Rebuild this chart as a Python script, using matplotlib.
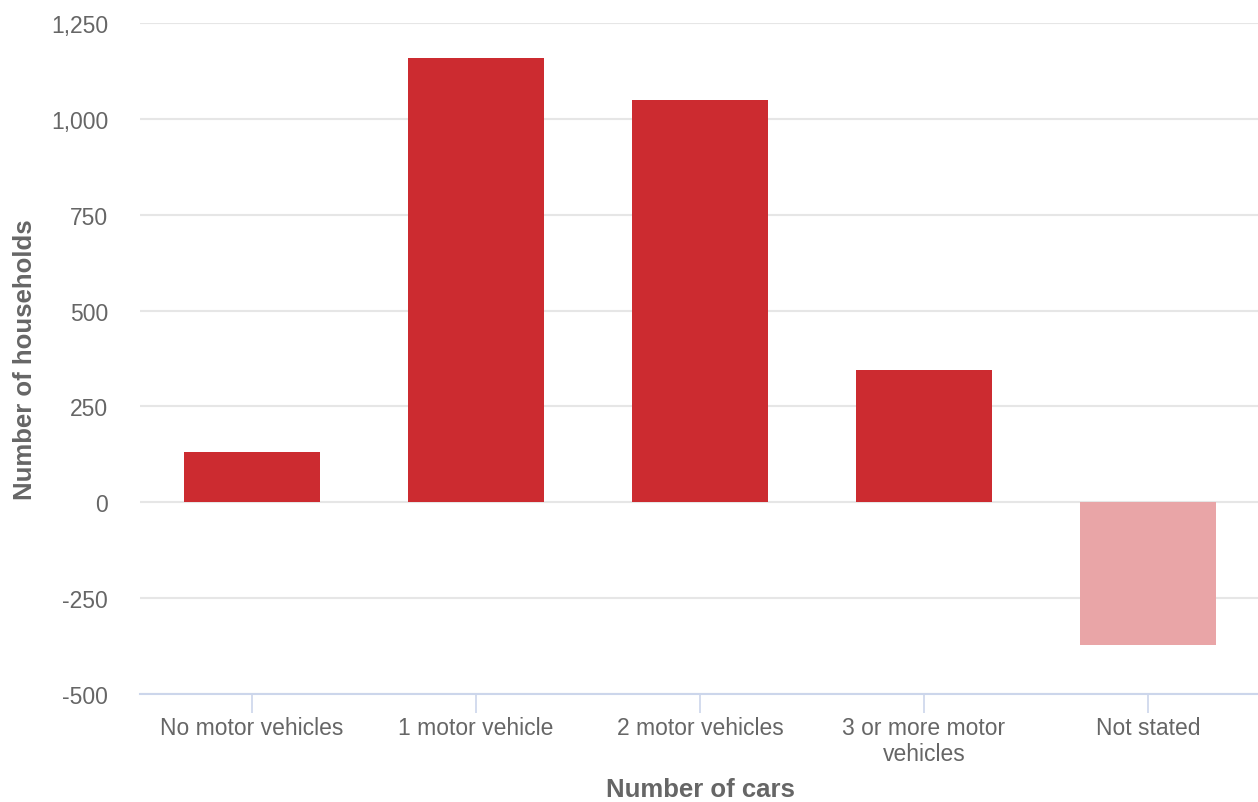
import matplotlib
matplotlib.use("Agg")
import matplotlib.pyplot as plt
from matplotlib.ticker import FuncFormatter

plt.rcParams['font.family'] = ['Liberation Sans', 'DejaVu Sans']

categories = ["No motor vehicles", "1 motor vehicle", "2 motor vehicles",
              "3 or more motor\nvehicles", "Not stated"]
households = [130, 1160, 1050, 345, -373]
y_ticks = [-500, -250, 0, 250, 500, 750, 1000, 1250]

main_color = "#cc2b30"
faded_color = "#e9a5a7"
bar_colors = [main_color] * 4 + [faded_color]

W, H = 1258, 803
fig = plt.figure(figsize=(W / 100, H / 100), dpi=100)
ax = fig.add_axes([140 / W, (H - 695) / H, 1120 / W, 671 / H])

x = range(len(categories))
ax.bar(x, households, width=0.61, color=bar_colors, zorder=3)

ax.set_xlim(-0.5, len(categories) - 0.5)
ax.set_ylim(y_ticks[0], y_ticks[-1])
ax.set_yticks(y_ticks)
ax.yaxis.set_major_formatter(FuncFormatter(lambda v, _: f"{int(v):,}"))
ax.set_xticks(list(x))
ax.set_xticklabels(categories, linespacing=1.15)

for s in ["top", "right", "left"]:
    ax.spines[s].set_visible(False)
ax.spines["bottom"].set_color("#ccd6eb")
ax.spines["bottom"].set_linewidth(1.5)

ax.grid(axis="y", color="#e6e6e6", linewidth=1.5, zorder=0)
ax.set_axisbelow(True)

ax.tick_params(axis="y", length=0, pad=23, labelsize=16.5, labelcolor="#666666")
ax.tick_params(axis="x", length=14, width=1.2, color="#ccd6eb", pad=2,
               labelsize=16.5, labelcolor="#666666")

ax.set_xlabel("Number of cars", fontsize=18.5, fontweight="bold",
              color="#666666", labelpad=9)
ax.set_ylabel("Number of households", fontsize=18.5, fontweight="bold",
              color="#666666", labelpad=10)

fig.savefig("out.png", dpi=100)
